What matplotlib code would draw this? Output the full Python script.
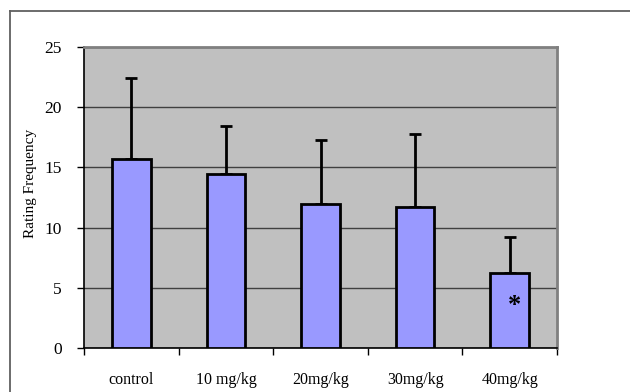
import matplotlib
matplotlib.use("Agg")
import matplotlib.pyplot as plt
from matplotlib.lines import Line2D
import numpy as np

groups = ["control", "10 mg/kg", "20mg/kg", "30mg/kg", "40mg/kg"]
means = [15.7, 14.45, 12.0, 11.7, 6.2]
errs = [6.75, 4.0, 5.3, 6.1, 3.0]

plt.rcParams['font.family'] = ['Liberation Serif', 'DejaVu Serif']

fig = plt.figure(figsize=(6.3, 3.92), dpi=100)
ax = fig.add_axes([84 / 630, 1 - 348 / 392, 473 / 630, 301 / 392])

x = np.arange(len(groups))
ax.set_facecolor("#C0C0C0")
ax.bar(x, means, width=0.41, color="#9999FF", edgecolor="black", linewidth=2, zorder=3)
ax.errorbar(x, means, yerr=[np.zeros(len(errs)), errs], fmt="none", ecolor="black",
            elinewidth=2, capsize=4.5, capthick=2, zorder=2)
ax.text(4.05, 3.55, "*", ha="center", va="center", fontsize=19, fontweight="bold", zorder=4)

ax.set_xlim(-0.5, 4.5)
ax.set_ylim(0, 25)
ax.set_yticks(range(0, 26, 5))
ax.yaxis.grid(True, color="#404040", linewidth=1)
ax.set_axisbelow(True)

ax.set_xticks(np.arange(-0.5, 5, 1))
ax.set_xticklabels([])
ax.set_xticks(x, minor=True)
ax.set_xticklabels(groups, minor=True)
ax.tick_params(axis="x", which="major", direction="out", length=5, width=1)
ax.tick_params(axis="x", which="minor", length=0, pad=17, labelsize=11.5)
ax.tick_params(axis="y", direction="out", length=5, width=1, pad=11, labelsize=12.5)

for s in ["left", "bottom"]:
    ax.spines[s].set_color("black")
    ax.spines[s].set_linewidth(1.2)
for s in ["top", "right"]:
    ax.spines[s].set_color("#808080")
    ax.spines[s].set_linewidth(2)

ax.set_ylabel("Rating Frequency", fontsize=11)
ax.yaxis.set_label_coords(-0.099, 0.546)

# outer chart frame (only top and left visible)
fig.add_artist(Line2D([10 / 630, 10 / 630], [0, 1 - 11 / 392], color="#606060", lw=1.3,
                      transform=fig.transFigure))
fig.add_artist(Line2D([10 / 630, 1], [1 - 11 / 392, 1 - 11 / 392], color="#606060", lw=1.3,
                      transform=fig.transFigure))

fig.savefig("out.png", dpi=100)
